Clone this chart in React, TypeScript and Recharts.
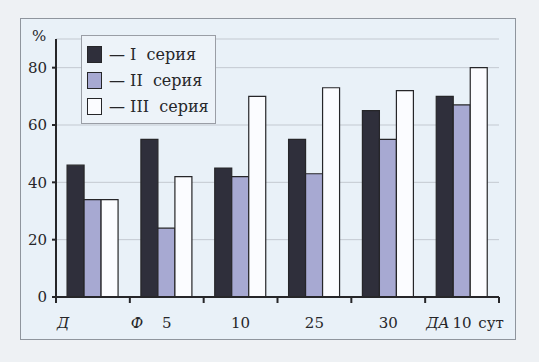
import { BarChart, Bar, XAxis, YAxis, CartesianGrid, Legend } from 'recharts';

// данные
const categories = ['', '5', '10', '25', '30', '10'];
const markers = ['Д', 'Ф', '', '', '', 'ДА'];
const unitLabel = 'сут';
const seriesI = [46, 55, 45, 55, 65, 70];
const seriesII = [34, 24, 42, 43, 55, 67];
const seriesIII = [34, 42, 70, 73, 72, 80];
const seriesNames = ['I серия', 'II серия', 'III серия'];
const yTicks = [0, 20, 40, 60, 80];

const W = 539;
const H = 362;
const MARGIN = { top: 39, right: 40, bottom: 35, left: 0 };
const Y_AXIS_W = 56;
const FONT = 'DejaVu Serif';
const FS = 15;
const INK = '#262629';

const COLORS = ['#2f2f3b', '#a7a9d2', '#fbfcff'];

const data = categories.map((label, i) => ({
  label,
  s1: seriesI[i],
  s2: seriesII[i],
  s3: seriesIII[i],
}));

const plotW = W - MARGIN.left - MARGIN.right - Y_AXIS_W;
const band = plotW / categories.length;

function XTick(props: any) {
  const { x, y, index, payload } = props;
  const axisY = y - 8;
  const left = x - band / 2;
  const last = index === categories.length - 1;
  const txt = { fontSize: FS, fill: INK, fontFamily: FONT };
  return (
    <g>
      <line x1={left} x2={left} y1={axisY} y2={axisY + 6} stroke={INK} strokeWidth={2} />
      {last && (
        <line x1={x + band / 2} x2={x + band / 2} y1={axisY} y2={axisY + 6} stroke={INK} strokeWidth={2} />
      )}
      {markers[index] && (
        <text x={left + 1} y={axisY + 31} textAnchor="start" fontStyle="italic" style={txt}>
          {markers[index]}
        </text>
      )}
      <text x={x} y={axisY + 31} textAnchor="middle" style={txt}>
        {payload.value}
      </text>
      {last && (
        <text x={x + 29} y={axisY + 31} textAnchor="middle" style={txt}>
          {unitLabel}
        </text>
      )}
    </g>
  );
}

function LegendBox() {
  return (
    <div
      style={{
        border: '1.5px solid #9a9ea6',
        background: '#edf3f9',
        padding: '5px 6px 4px 5px',
        fontFamily: FONT,
        fontSize: 16,
        color: INK,
      }}
    >
      {seriesNames.map((name, i) => (
        <div key={name} style={{ display: 'flex', alignItems: 'center', height: 26 }}>
          <div
            style={{
              width: 15,
              height: 17,
              background: COLORS[i],
              border: `1.5px solid ${INK}`,
              boxSizing: 'border-box',
              marginRight: 7,
            }}
          />
          <span style={{ whiteSpace: 'pre' }}>{'— ' + name.replace(' ', '  ')}</span>
        </div>
      ))}
    </div>
  );
}

export default function App() {
  return (
    <div style={{ position: 'fixed', left: 0, top: 0, width: W, height: H, background: '#eef1f4', fontFamily: FONT }}>
      <div
        style={{
          position: 'absolute',
          left: 20,
          top: 18,
          width: 496,
          height: 322,
          boxSizing: 'border-box',
          border: '1.5px solid #8f959d',
          background: '#e9f1f8',
        }}
      />
      <div style={{ position: 'absolute', left: 0, top: 0 }}>
        <BarChart width={W} height={H} data={data} margin={MARGIN} barCategoryGap="15%" barGap={0}>
          <CartesianGrid vertical={false} stroke="#c3c9d1" strokeWidth={1} />
          <XAxis
            dataKey="label"
            tick={<XTick />}
            tickLine={false}
            tickSize={6}
            tickMargin={2}
            height={30}
            interval={0}
            stroke={INK}
            strokeWidth={2}
          />
          <YAxis
            domain={[0, 90]}
            ticks={yTicks}
            width={Y_AXIS_W}
            tickSize={4}
            tickMargin={5}
            stroke={INK}
            strokeWidth={2}
            tick={{ fill: INK, fontSize: FS, fontFamily: FONT }}
            label={{ value: '%', position: 'insideTopLeft', dx: 27, dy: -14, fill: INK, fontSize: FS, fontFamily: FONT }}
          />
          <Legend
            layout="horizontal"
            verticalAlign="middle"
            align="center"
            wrapperStyle={{ left: 81, top: 35, width: 'auto' }}
            content={<LegendBox />}
          />
          <Bar dataKey="s1" name={seriesNames[0]} fill={COLORS[0]} stroke={INK} strokeWidth={1.2} isAnimationActive={false} />
          <Bar dataKey="s2" name={seriesNames[1]} fill={COLORS[1]} stroke={INK} strokeWidth={1.2} isAnimationActive={false} />
          <Bar dataKey="s3" name={seriesNames[2]} fill={COLORS[2]} stroke={INK} strokeWidth={1.2} isAnimationActive={false} />
        </BarChart>
      </div>
    </div>
  );
}
